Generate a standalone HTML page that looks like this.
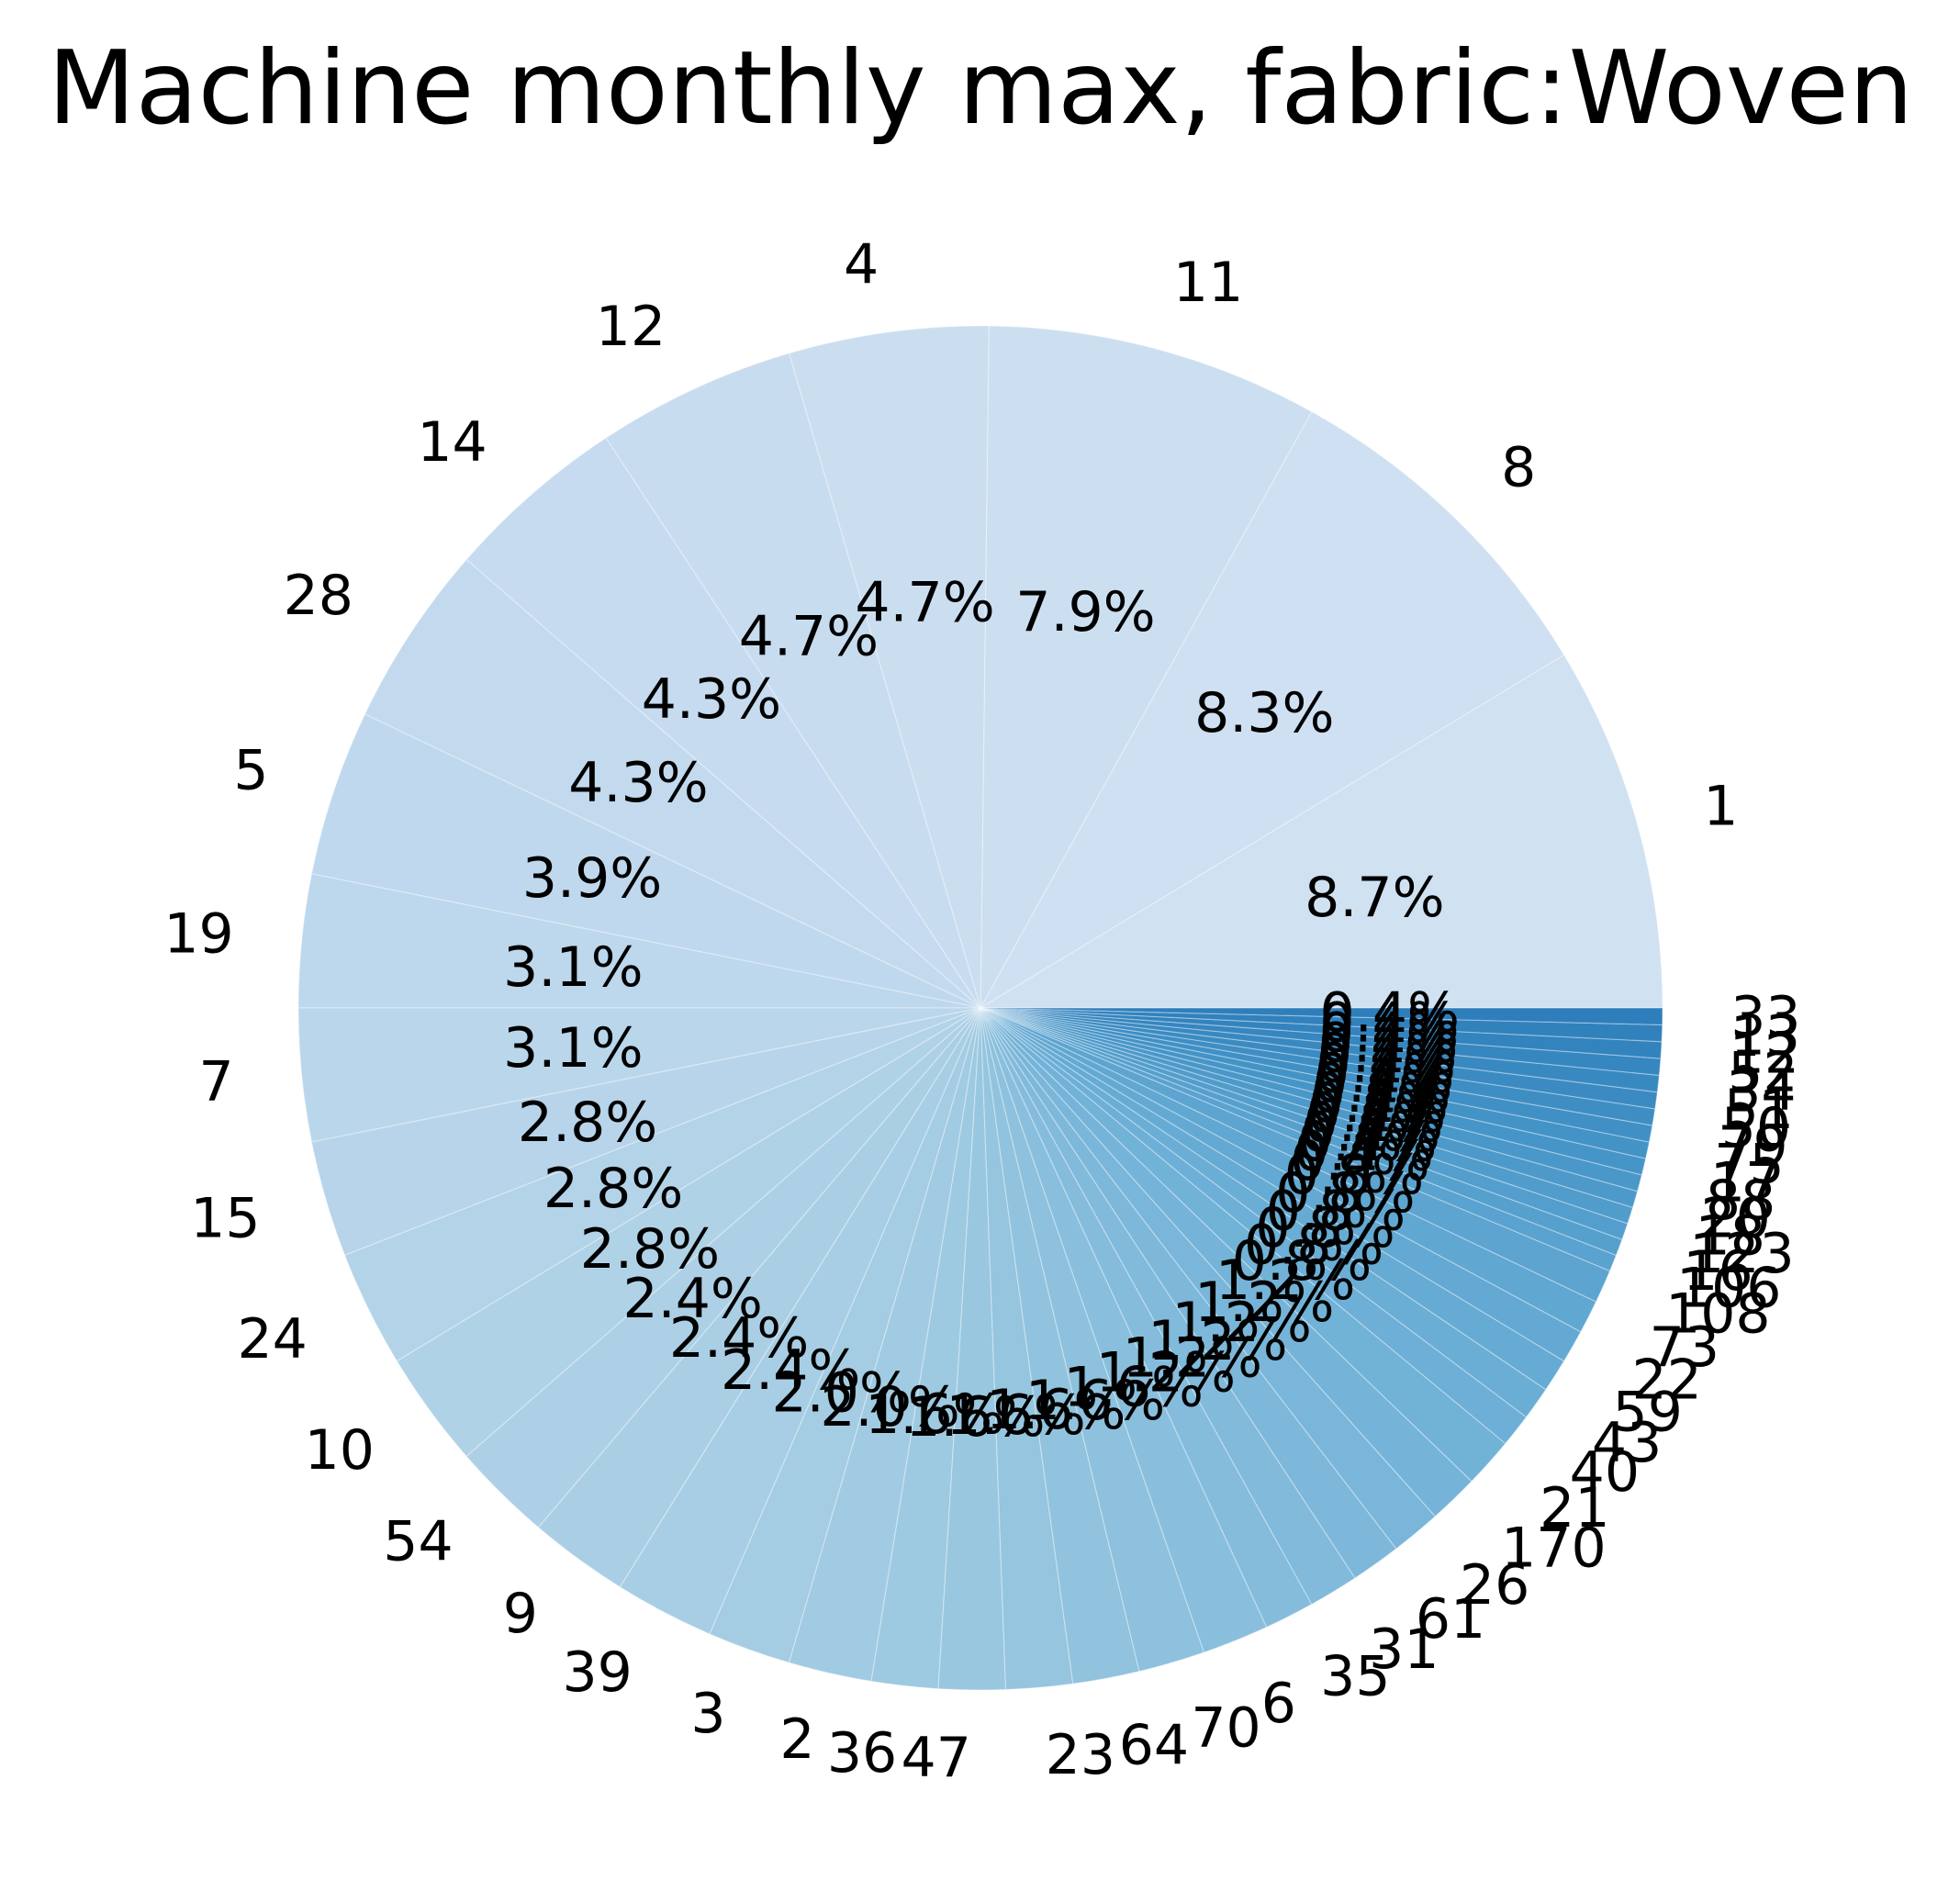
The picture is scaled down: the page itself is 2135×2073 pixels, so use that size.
<!DOCTYPE html>
<html><head><meta charset="utf-8"><style>
html,body{margin:0;padding:0;background:#fff}
svg{display:block}
text{font-family:"DejaVu Sans","Liberation Sans",sans-serif;fill:#000}
</style></head><body>
<svg id="chart" width="2135" height="2073" viewBox="0 0 2135 2073" xmlns="http://www.w3.org/2000/svg">
<rect width="2135" height="2073" fill="#fff"/>
<text x="1068" y="134" font-size="111" text-anchor="middle">Machine monthly max, fabric:Woven</text>
<g id="slices"></g>
<g id="labels"></g>
</svg>
<script>
const categories = ["1","8","11","4","12","14","28","5","19","7","15","24","10","54","9","39","3","2","36","47","23","64","70","6","35","31","61","26","170","21","40","43","59","22","73","108","106","16","123","18","20","88","17","75","79","50","51","34","52","12","13","33"];
const counts = [22,21,20,12,12,11,11,10,8,8,7,7,7,6,6,6,5,5,4,4,4,4,4,4,3,3,3,3,3,3,2,2,2,2,2,2,1,1,1,1,1,1,1,1,1,1,1,1,1,1,1,1];

const cx=1068, cy=1098, R=743;
const stops=[[0,[247,251,255]],[0.125,[222,235,247]],[0.25,[198,219,239]],[0.375,[158,202,225]],[0.5,[107,174,214]],[0.625,[66,146,198]],[0.75,[33,113,181]],[0.875,[8,81,156]],[1,[8,48,107]]];
function blues(t){for(let i=1;i<stops.length;i++){if(t<=stops[i][0]){const a=stops[i-1],b=stops[i];const f=(t-a[0])/(b[0]-a[0]);return 'rgb('+a[1].map((v,k)=>Math.round(v+(b[1][k]-v)*f)).join(',')+')';}}return 'rgb(8,48,107)';}
const total=counts.reduce((a,b)=>a+b,0);
const ns='http://www.w3.org/2000/svg';
const gS=document.getElementById('slices'), gL=document.getElementById('labels');
let cum=0;
const n=counts.length;
counts.forEach((c,i)=>{
  const a0=cum/total*2*Math.PI, a1=(cum+c)/total*2*Math.PI; cum+=c;
  const x0=cx+R*Math.cos(a0), y0=cy-R*Math.sin(a0), x1=cx+R*Math.cos(a1), y1=cy-R*Math.sin(a1);
  const large=(a1-a0)>Math.PI?1:0;
  const p=document.createElementNS(ns,'path');
  p.setAttribute('d',`M${cx},${cy} L${x0},${y0} A${R},${R} 0 ${large} 0 ${x1},${y1} Z`);
  p.setAttribute('fill',blues(0.2+0.5*i/(n-1)));
  p.setAttribute('stroke','rgba(255,255,255,0.35)');
  p.setAttribute('stroke-width','1.2');
  
  
  gS.appendChild(p);
  const am=(a0+a1)/2, ca=Math.cos(am), sa=Math.sin(am);
  const t=document.createElementNS(ns,'text');
  t.setAttribute('x',cx+1.1*R*ca); t.setAttribute('y',cy-1.1*R*sa);
  t.setAttribute('font-size','60'); t.setAttribute('dominant-baseline','central');
  t.setAttribute('text-anchor',ca>=0?'start':'end');
  t.textContent=categories[i];
  
  
  gL.appendChild(t);
  const q=document.createElementNS(ns,'text');
  q.setAttribute('x',cx+0.6*R*ca); q.setAttribute('y',cy-0.6*R*sa);
  q.setAttribute('font-size','60'); q.setAttribute('dominant-baseline','central');
  q.setAttribute('text-anchor','middle');
  q.textContent=(c/total*100).toFixed(1)+'%';
  
  
  gL.appendChild(q);
});
</script>
</body></html>
